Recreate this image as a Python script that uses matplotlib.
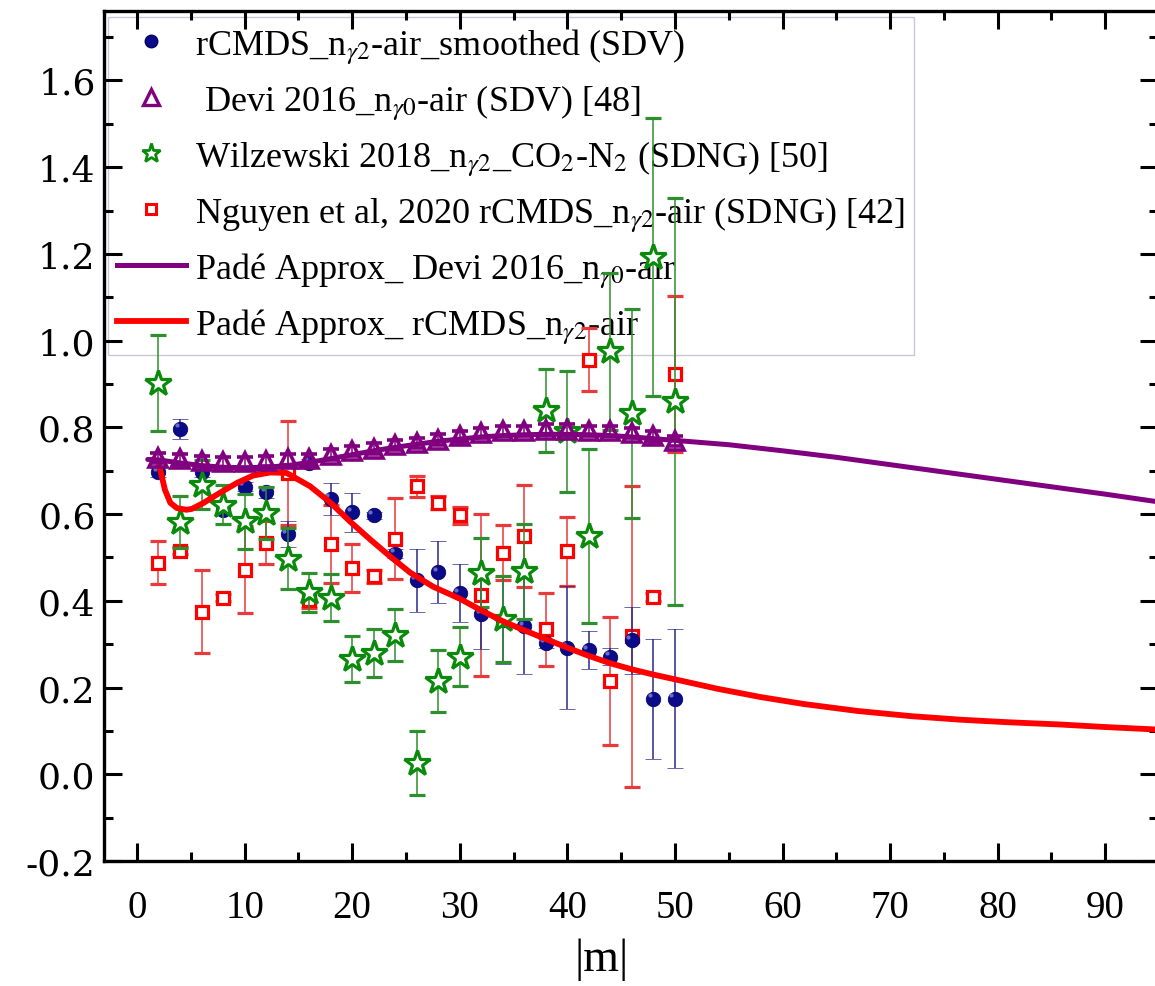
import matplotlib
matplotlib.use('Agg')
import matplotlib.pyplot as plt
from matplotlib.lines import Line2D
from matplotlib.ticker import MultipleLocator
from matplotlib.transforms import ScaledTranslation

plt.rcParams['font.family'] = ['Liberation Serif', 'DejaVu Serif']
plt.rcParams['mathtext.fontset'] = 'stix'

# |m| for all four data sets
M = [2, 4, 6, 8, 10, 12, 14, 16, 18, 20, 22, 24, 26,
     28, 30, 32, 34, 36, 38, 40, 42, 44, 46, 48, 50]

# rCMDS n_g2-air smoothed (SDV)
rcmds_y = [0.696, 0.797, 0.696, 0.610, 0.663, 0.650, 0.553, 0.718, 0.635,
           0.604, 0.597, 0.509, 0.447, 0.466, 0.418, 0.369, 0.355, 0.342,
           0.302, 0.292, 0.286, 0.271, 0.309, 0.174, 0.174]
rcmds_err = [0.010, 0.023, 0.010, 0.010, 0.010, 0.013, 0.030, 0.010, 0.037,
             0.045, 0.008, 0.010, 0.073, 0.072, 0.067, 0.080, 0.100, 0.110,
             0.010, 0.142, 0.044, 0.020, 0.077, 0.138, 0.160]

# Devi 2016 n_g0-air (SDV)
devi_y = [0.729, 0.726, 0.722, 0.719, 0.719, 0.722, 0.726, 0.726, 0.737,
          0.745, 0.751, 0.759, 0.764, 0.772, 0.779, 0.787, 0.791, 0.791,
          0.795, 0.795, 0.791, 0.791, 0.787, 0.779, 0.768]
devi_err = [0.012] * 25

# Wilzewski 2018 n_g2 CO2-N2 (SDNG)
wilz_y = [0.902, 0.581, 0.668, 0.622, 0.583, 0.603, 0.497, 0.420, 0.407,
          0.265, 0.279, 0.322, 0.027, 0.215, 0.271, 0.465, 0.358, 0.468,
          0.839, 0.791, 0.550, 0.975, 0.832, 1.193, 0.860]
wilz_err = [0.110, 0.060, 0.056, 0.045, 0.064, 0.060, 0.070, 0.045, 0.054,
            0.053, 0.055, 0.060, 0.074, 0.072, 0.068, 0.080, 0.100, 0.110,
            0.096, 0.140, 0.200, 0.180, 0.240, 0.320, 0.470]

# Nguyen et al 2020 rCMDS n_g2-air (SDNG)
nguyen_y = [0.488, 0.516, 0.375, 0.407, 0.472, 0.534, 0.695, 0.403, 0.532,
            0.476, 0.457, 0.543, 0.664, 0.626, 0.597, 0.413, 0.511, 0.550,
            0.334, 0.514, 0.956, 0.215, 0.318, 0.409, 0.924]
nguyen_err = [0.050, 0.008, 0.096, 0.008, 0.100, 0.050, 0.120, 0.020, 0.090,
              0.056, 0.015, 0.093, 0.024, 0.015, 0.020, 0.187, 0.064, 0.118,
              0.085, 0.080, 0.072, 0.147, 0.347, 0.010, 0.180]

# Pade approximant curves
pade_devi_m = [1, 2, 4, 6, 8, 10, 12, 14, 16, 18, 20, 22, 24, 26, 28, 30,
               32, 34, 36, 38, 40, 42, 44, 46, 48, 50, 55, 60, 65, 70, 75,
               80, 85, 90, 95]
pade_devi_y = [0.726, 0.725, 0.718, 0.712, 0.708, 0.707, 0.708, 0.712, 0.719,
               0.728, 0.737, 0.746, 0.754, 0.761, 0.768, 0.773, 0.778, 0.781,
               0.783, 0.784, 0.784, 0.783, 0.781, 0.778, 0.774, 0.770, 0.760,
               0.746, 0.731, 0.714, 0.697, 0.680, 0.663, 0.646, 0.628]

pade_rcmds_m = [2.07, 2.6, 3.1, 3.7, 4.6, 5.1, 6.2, 7.7, 9.3, 10.8, 12.4,
                13.9, 16.1, 18.0, 19.8, 21.7, 23.5, 25.4, 27.5, 30, 32, 34,
                36, 38, 40, 42, 44, 46, 48, 50, 54, 58, 62, 67, 72, 76.5,
                81, 85.7, 90, 95]
pade_rcmds_y = [0.712, 0.656, 0.626, 0.614, 0.610, 0.612, 0.626, 0.649, 0.672,
                0.689, 0.696, 0.695, 0.664, 0.626, 0.583, 0.541, 0.503, 0.465,
                0.433, 0.405, 0.378, 0.353, 0.332, 0.312, 0.292, 0.273, 0.256,
                0.242, 0.230, 0.219, 0.197, 0.178, 0.162, 0.146, 0.134, 0.126,
                0.120, 0.115, 0.109, 0.103]

YTICKS = [-0.2, 0.0, 0.2, 0.4, 0.6, 0.8, 1.0, 1.2, 1.4, 1.6]
YTICKLABELS = ['-0.2', '0.0', '0.2', '0.4', '0.6', '0.8',
               '1.0', '1.2', '1.4', '1.6']

NAVY = '#0b0b8a'
PURPLE = '#800080'
GREEN = '#0a8a0a'
RED = '#ff0000'

LABELS = [
    r'rCMDS_n$_{\gamma2}$-air_smoothed (SDV)',
    r' Devi 2016_n$_{\gamma0}$-air (SDV) [48]',
    r'Wilzewski 2018_n$_{\gamma2}$_CO$_2$-N$_2$ (SDNG) [50]',
    r'Nguyen et al, 2020 rCMDS_n$_{\gamma2}$-air (SDNG) [42]',
    r'Padé Approx_ Devi 2016_n$_{\gamma0}$-air',
    r'Padé Approx_ rCMDS_n$_{\gamma2}$-air',
]

fig = plt.figure(figsize=(11.55, 9.87), dpi=100)
ax = fig.add_axes([0.0900, 0.1266, 0.9126, 0.8612])

eb = dict(linestyle='none', elinewidth=1.1, capsize=6, capthick=1.3)

ax.errorbar(M, nguyen_y, yerr=nguyen_err, marker='s', ms=9, mew=2.3,
            mfc='white', mec=RED, ecolor='#e8393b', zorder=3, **eb)
ax.errorbar(M, rcmds_y, yerr=rcmds_err, marker='o', ms=10.5, mew=0.5,
            mfc=NAVY, mec='#000060', ecolor='#2a2a8a', zorder=4, **eb)
# small highlight on the navy spheres
shift = ScaledTranslation(-2.5 / 72, 2.5 / 72, fig.dpi_scale_trans)
ax.plot(M, rcmds_y, ls='none', marker='o', ms=3, mew=0, mfc='#7f86d6',
        alpha=0.8, zorder=4.1, transform=ax.transData + shift)
ax.errorbar(M, wilz_y, yerr=wilz_err, marker='*', ms=19, mew=2.3,
            mfc='white', mec=GREEN, ecolor='#2f8f2f', zorder=5, **eb)
ax.plot(pade_rcmds_m, pade_rcmds_y, color=RED, lw=4.2, zorder=6,
        solid_capstyle='round')
ax.plot(pade_devi_m, pade_devi_y, color=PURPLE, lw=3.6, zorder=6,
        solid_capstyle='round')
ax.errorbar(M, devi_y, yerr=devi_err, marker='^', ms=13, mew=2.6,
            mfc='none', mec=PURPLE, ecolor=PURPLE, zorder=7, **eb)

ax.set_xlim(-3.07, 94.9)
ax.set_ylim(-0.2, 1.76)

ax.xaxis.set_major_locator(MultipleLocator(10))
ax.xaxis.set_minor_locator(MultipleLocator(5))
ax.set_yticks(YTICKS)
ax.set_yticklabels(YTICKLABELS, fontfamily='DejaVu Serif', fontsize=26)
ax.yaxis.set_minor_locator(MultipleLocator(0.1))
ax.tick_params(which='both', direction='in', top=True, right=True, width=2.2)
ax.tick_params(which='major', length=13)
ax.tick_params(which='minor', length=6.5)
ax.tick_params(axis='x', which='major', pad=20, labelsize=28)
ax.tick_params(axis='y', which='major', pad=6)
for sp in ax.spines.values():
    sp.set_linewidth(2.4)

ax.set_xlabel('|m|', fontsize=33)
ax.xaxis.set_label_coords(0.472, -0.09)

handles = [
    Line2D([], [], ls='none', marker='o', ms=9, mfc=NAVY, mec='#000060'),
    Line2D([], [], ls='none', marker='^', ms=11, mew=2.4, mfc='none', mec=PURPLE),
    Line2D([], [], ls='none', marker='*', ms=14, mew=2.0, mfc='white', mec=GREEN),
    Line2D([], [], ls='none', marker='s', ms=7, mew=2.2, mfc='white', mec=RED),
    Line2D([], [], color=PURPLE, lw=3.6),
    Line2D([], [], color=RED, lw=4.2),
]
leg = ax.legend(handles, LABELS, loc='upper left',
                bbox_to_anchor=(0.004, 0.993), borderaxespad=0,
                fontsize=26, handlelength=1.9, handletextpad=0.25,
                labelspacing=0.445, borderpad=0.25, fancybox=False,
                framealpha=0.92, edgecolor='#c4c4d4')
leg.get_frame().set_linewidth(1.0)
leg.set_zorder(1)

fig.savefig('out.png', dpi=100)
